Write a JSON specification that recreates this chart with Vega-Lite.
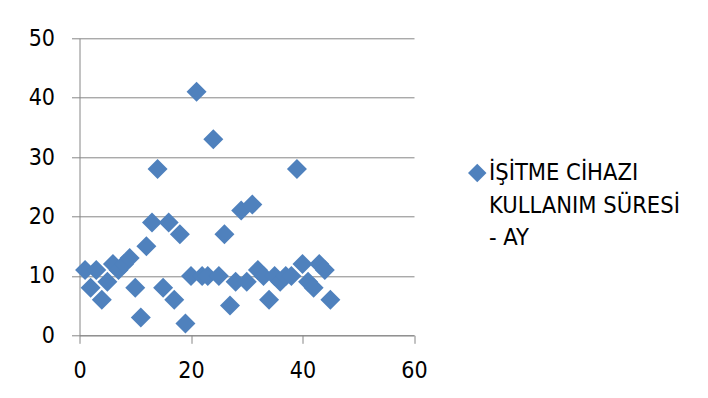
{
  "$schema": "https://vega.github.io/schema/vega-lite/v6.json",
  "autosize": "none",
  "width": 334.5,
  "height": 297,
  "padding": {"left": 79.5, "top": 38.3, "right": 294, "bottom": 62.7},
  "background": "white",
  "config": {
    "font": "Liberation Sans Narrow, DejaVu Sans Condensed, sans-serif",
    "view": {"stroke": null},
    "style": {
      "guide-label": {"lineHeight": 32.5, "dy": 7}
    },
    "axis": {
      "labelFont": "Liberation Sans Narrow, DejaVu Sans Condensed, sans-serif",
      "labelFontSize": 23,
      "labelColor": "#000000",
      "domainColor": "#868686",
      "tickColor": "#868686",
      "gridColor": "#868686",
      "domainWidth": 1,
      "tickWidth": 1,
      "gridWidth": 1,
      "tickSize": 8,
      "title": null
    },
    "legend": {
      "labelFont": "Liberation Sans Narrow, DejaVu Sans Condensed, sans-serif",
      "labelFontSize": 23.5,
      "labelColor": "#000000"
    }
  },
  "data": {
    "values": [
      {"sira": 1, "sure": 11, "seri": "İŞİTME CİHAZI KULLANIM SÜRESİ - AY"},
      {"sira": 2, "sure": 8, "seri": "İŞİTME CİHAZI KULLANIM SÜRESİ - AY"},
      {"sira": 3, "sure": 11, "seri": "İŞİTME CİHAZI KULLANIM SÜRESİ - AY"},
      {"sira": 4, "sure": 6, "seri": "İŞİTME CİHAZI KULLANIM SÜRESİ - AY"},
      {"sira": 5, "sure": 9, "seri": "İŞİTME CİHAZI KULLANIM SÜRESİ - AY"},
      {"sira": 6, "sure": 12, "seri": "İŞİTME CİHAZI KULLANIM SÜRESİ - AY"},
      {"sira": 7, "sure": 11, "seri": "İŞİTME CİHAZI KULLANIM SÜRESİ - AY"},
      {"sira": 8, "sure": 12, "seri": "İŞİTME CİHAZI KULLANIM SÜRESİ - AY"},
      {"sira": 9, "sure": 13, "seri": "İŞİTME CİHAZI KULLANIM SÜRESİ - AY"},
      {"sira": 10, "sure": 8, "seri": "İŞİTME CİHAZI KULLANIM SÜRESİ - AY"},
      {"sira": 11, "sure": 3, "seri": "İŞİTME CİHAZI KULLANIM SÜRESİ - AY"},
      {"sira": 12, "sure": 15, "seri": "İŞİTME CİHAZI KULLANIM SÜRESİ - AY"},
      {"sira": 13, "sure": 19, "seri": "İŞİTME CİHAZI KULLANIM SÜRESİ - AY"},
      {"sira": 14, "sure": 28, "seri": "İŞİTME CİHAZI KULLANIM SÜRESİ - AY"},
      {"sira": 15, "sure": 8, "seri": "İŞİTME CİHAZI KULLANIM SÜRESİ - AY"},
      {"sira": 16, "sure": 19, "seri": "İŞİTME CİHAZI KULLANIM SÜRESİ - AY"},
      {"sira": 17, "sure": 6, "seri": "İŞİTME CİHAZI KULLANIM SÜRESİ - AY"},
      {"sira": 18, "sure": 17, "seri": "İŞİTME CİHAZI KULLANIM SÜRESİ - AY"},
      {"sira": 19, "sure": 2, "seri": "İŞİTME CİHAZI KULLANIM SÜRESİ - AY"},
      {"sira": 20, "sure": 10, "seri": "İŞİTME CİHAZI KULLANIM SÜRESİ - AY"},
      {"sira": 21, "sure": 41, "seri": "İŞİTME CİHAZI KULLANIM SÜRESİ - AY"},
      {"sira": 22, "sure": 10, "seri": "İŞİTME CİHAZI KULLANIM SÜRESİ - AY"},
      {"sira": 23, "sure": 10, "seri": "İŞİTME CİHAZI KULLANIM SÜRESİ - AY"},
      {"sira": 24, "sure": 33, "seri": "İŞİTME CİHAZI KULLANIM SÜRESİ - AY"},
      {"sira": 25, "sure": 10, "seri": "İŞİTME CİHAZI KULLANIM SÜRESİ - AY"},
      {"sira": 26, "sure": 17, "seri": "İŞİTME CİHAZI KULLANIM SÜRESİ - AY"},
      {"sira": 27, "sure": 5, "seri": "İŞİTME CİHAZI KULLANIM SÜRESİ - AY"},
      {"sira": 28, "sure": 9, "seri": "İŞİTME CİHAZI KULLANIM SÜRESİ - AY"},
      {"sira": 29, "sure": 21, "seri": "İŞİTME CİHAZI KULLANIM SÜRESİ - AY"},
      {"sira": 30, "sure": 9, "seri": "İŞİTME CİHAZI KULLANIM SÜRESİ - AY"},
      {"sira": 31, "sure": 22, "seri": "İŞİTME CİHAZI KULLANIM SÜRESİ - AY"},
      {"sira": 32, "sure": 11, "seri": "İŞİTME CİHAZI KULLANIM SÜRESİ - AY"},
      {"sira": 33, "sure": 10, "seri": "İŞİTME CİHAZI KULLANIM SÜRESİ - AY"},
      {"sira": 34, "sure": 6, "seri": "İŞİTME CİHAZI KULLANIM SÜRESİ - AY"},
      {"sira": 35, "sure": 10, "seri": "İŞİTME CİHAZI KULLANIM SÜRESİ - AY"},
      {"sira": 36, "sure": 9, "seri": "İŞİTME CİHAZI KULLANIM SÜRESİ - AY"},
      {"sira": 37, "sure": 10, "seri": "İŞİTME CİHAZI KULLANIM SÜRESİ - AY"},
      {"sira": 38, "sure": 10, "seri": "İŞİTME CİHAZI KULLANIM SÜRESİ - AY"},
      {"sira": 39, "sure": 28, "seri": "İŞİTME CİHAZI KULLANIM SÜRESİ - AY"},
      {"sira": 40, "sure": 12, "seri": "İŞİTME CİHAZI KULLANIM SÜRESİ - AY"},
      {"sira": 41, "sure": 9, "seri": "İŞİTME CİHAZI KULLANIM SÜRESİ - AY"},
      {"sira": 42, "sure": 8, "seri": "İŞİTME CİHAZI KULLANIM SÜRESİ - AY"},
      {"sira": 43, "sure": 12, "seri": "İŞİTME CİHAZI KULLANIM SÜRESİ - AY"},
      {"sira": 44, "sure": 11, "seri": "İŞİTME CİHAZI KULLANIM SÜRESİ - AY"},
      {"sira": 45, "sure": 6, "seri": "İŞİTME CİHAZI KULLANIM SÜRESİ - AY"}
    ]
  },
  "mark": {"type": "point", "shape": "diamond", "filled": true, "size": 400, "opacity": 1},
  "encoding": {
    "x": {
      "field": "sira",
      "type": "quantitative",
      "scale": {"domain": [0, 60], "nice": false, "zero": true},
      "axis": {"values": [0, 20, 40, 60], "grid": false, "labelPadding": 9, "labelFlush": false}
    },
    "y": {
      "field": "sure",
      "type": "quantitative",
      "scale": {"domain": [0, 50], "nice": false},
      "axis": {"values": [0, 10, 20, 30, 40, 50], "grid": true, "labelPadding": 17, "labelOffset": -7}
    },
    "color": {
      "field": "seri",
      "type": "nominal",
      "scale": {"range": ["#4F81BD"]},
      "legend": {
        "title": null,
        "orient": "none",
        "legendX": 386,
        "legendY": 123,
        "symbolType": "diamond",
        "symbolSize": 340,
        "symbolStrokeWidth": 0,
        "labelOffset": 0,
        "labelBaseline": "alphabetic",
        "labelLimit": 400,
        "labelExpr": "['İŞİTME CİHAZI', 'KULLANIM SÜRESİ', '- AY']"
      }
    }
  }
}
